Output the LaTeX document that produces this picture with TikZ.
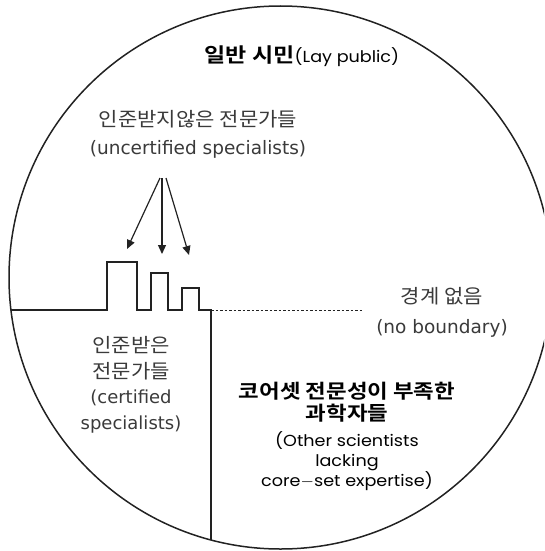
\documentclass[tikz,border=0pt]{standalone}
\usepackage{fontspec}
\setmainfont{DejaVu Sans}
\newfontfamily\kr{Noto Sans CJK KR}[FakeStretch=1.08]
\newfontfamily\krb{Noto Sans CJK KR Bold}[FakeStretch=1.15]
\newfontfamily\geo{Poppins}[FakeStretch=1.1]
\usetikzlibrary{arrows.meta}
\definecolor{ink}{HTML}{222222}
\definecolor{soft}{HTML}{3A3A3A}
\tikzset{
  line/.style={draw=ink, line width=1.5pt},
  softtext/.style={text=soft, align=center, inner sep=0pt},
  boldtext/.style={text=black, align=center, inner sep=0pt},
  pointer/.style={draw=ink, line width=1.2pt, -{Triangle[length=9pt,width=8pt]}},
}
\begin{document}
\begin{tikzpicture}[x=1pt,y=-1pt]
\useasboundingbox (0,0) rectangle (544,551);
\clip (0,0) rectangle (544,551);
\coordinate (c) at (280.5,277.5);
\draw[line] (c) circle[radius=271.5];
% title
\node[boldtext, anchor=base] (lay) at (302,63) {{\krb\fontsize{20}{22}\selectfont 일반 시민}{\geo\fontsize{16}{22}\selectfont(Lay public)}};
% uncertified
\node[softtext, anchor=base, font=\fontsize{18.5}{28}\selectfont] (unc) at (198,154) {{\kr\fontsize{19.5}{28}\selectfont 인준받지않은 전문가들}\\(uncertified specialists)};
% arrows
\coordinate (s1) at (160,178);
\coordinate (s2) at (162,178);
\coordinate (s3) at (166,178);
\coordinate (t1) at (127,249);
\coordinate (t2) at (162,254);
\coordinate (t3) at (189,255);
\draw[pointer] (s1) -- (t1);
\draw[pointer] (s2) -- (t2);
\draw[pointer] (s3) -- (t3);
% skyline boundary
\coordinate (b0) at (11,310);
\coordinate (b1) at (211,310);
\coordinate (b2) at (363,310);
\coordinate (b3) at (211,540);
\draw[line, line join=miter] (b0) -- (107,310) -- (107,262) -- (137,262) -- (137,310)
  -- (151,310) -- (151,273) -- (168,273) -- (168,310)
  -- (182,310) -- (182,288) -- (199,288) -- (199,310) -- (b1) -- (b3);
\draw[draw=ink, line width=1pt, dash pattern=on 2.5pt off 2pt] (b1) -- (b2);
% no boundary
\node[softtext, anchor=base, font=\fontsize{18.5}{30}\selectfont] (nob) at (442,333) {{\kr\fontsize{19.5}{30}\selectfont 경계 없음}\\(no boundary)};
% certified
\node[softtext, anchor=base, font=\fontsize{18}{25.5}\selectfont] (cer) at (131,429) {{\kr\fontsize{19.5}{25}\selectfont 인준받은}\\{\kr\fontsize{19.5}{25}\selectfont 전문가들}\\(certified\\specialists)};
% other scientists
\node[boldtext, anchor=base, font=\fontsize{19.5}{21.5}\selectfont] (oth) at (347,420) {{\krb 코어셋 전문성이 부족한}\\{\krb 과학자들}};
\node[boldtext, anchor=base, font=\geo\fontsize{16}{20}\selectfont] (othe) at (347,486) {(Other scientists\\lacking\\core$-$set expertise)};
\end{tikzpicture}
\end{document}
